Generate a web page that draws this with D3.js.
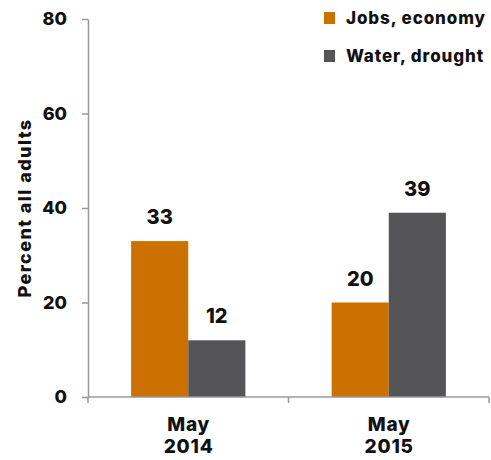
<!DOCTYPE html>
<html>
<head>
<meta charset="utf-8">
<script src="https://cdn.jsdelivr.net/npm/d3@7"></script>
<style>
  html, body { margin: 0; padding: 0; background: #fff; }
  svg { display: block; }
  svg text { font-family: Inter, "Liberation Sans", sans-serif; font-weight: 800; fill: #111; }
</style>
</head>
<body>
<svg id="chart" width="491" height="460"></svg>
<script>
const periods = ["May 2014", "May 2015"];
const seriesNames = ["Jobs, economy", "Water, drought"];
const jobsEconomy = [33, 20];
const waterDrought = [12, 39];
const yTicks = [0, 20, 40, 60, 80];
const colors = ["#CC7000", "#555557"];

const svg = d3.select("#chart");
const margin = { left: 88, right: 2, top: 19, bottom: 63 };
const W = 491, H = 460;

const x = d3.scaleBand().domain(periods).range([margin.left, W - margin.right]).paddingInner(0).paddingOuter(0);
const y = d3.scaleLinear().domain([0, 80]).range([H - margin.bottom, margin.top]);
const inner = d3.scaleBand().domain(seriesNames).range([0, x.bandwidth()]).paddingInner(0).paddingOuter(0.755);

const rows = periods.map((p, i) => ({ period: p, values: [jobsEconomy[i], waterDrought[i]] }));

// Bars
const groups = svg.append("g").selectAll("g").data(rows).join("g")
  .attr("transform", d => `translate(${x(d.period)},0)`);
groups.selectAll("rect").data(d => d.values.map((v, k) => ({ name: seriesNames[k], v, k })))
  .join("rect")
  .attr("x", d => inner(d.name))
  .attr("width", inner.bandwidth())
  .attr("y", d => y(d.v))
  .attr("height", d => y(0) - y(d.v))
  .attr("fill", d => colors[d.k]);

// Value labels
groups.selectAll("text.val").data(d => d.values.map((v, k) => ({ name: seriesNames[k], v, k })))
  .join("text").attr("class", "val")
  .attr("x", d => inner(d.name) + inner.bandwidth() / 2)
  .attr("y", d => y(d.v) - 17)
  .attr("text-anchor", "middle")
  .attr("font-size", 20)
  .text(d => d.v);

// Y axis
const yAxis = svg.append("g").attr("transform", `translate(${margin.left},0)`)
  .call(d3.axisLeft(y).tickValues(yTicks).tickSize(6).tickSizeOuter(0));
yAxis.select(".domain").attr("stroke", "#999").attr("stroke-width", 1.5);
yAxis.selectAll(".tick line").attr("stroke", "#999").attr("stroke-width", 1.5);
yAxis.selectAll(".tick text").attr("font-size", 18).attr("font-family", null)
  .attr("fill", "#111").attr("x", -21);

// X axis with ticks at band edges
const xAxisG = svg.append("g").attr("transform", `translate(0,${y(0)})`);
xAxisG.append("line").attr("x1", margin.left).attr("x2", W - margin.right)
  .attr("stroke", "#999").attr("stroke-width", 1.5);
const edges = periods.map(p => x(p)).concat([x(periods[periods.length - 1]) + x.bandwidth()]);
xAxisG.selectAll("line.edge").data(edges).join("line").attr("class", "edge")
  .attr("x1", d => d).attr("x2", d => d).attr("y1", 0).attr("y2", 6)
  .attr("stroke", "#999").attr("stroke-width", 1.5);
xAxisG.selectAll("text.cat").data(periods).join("text").attr("class", "cat")
  .attr("text-anchor", "middle")
  .attr("font-size", 19)
  .attr("letter-spacing", 0.8)
  .attr("transform", d => `translate(${x(d) + x.bandwidth() / 2 + 0.4},0)`)
  .each(function (d) {
    const parts = d.split(" ");
    d3.select(this).selectAll("tspan").data(parts).join("tspan")
      .attr("x", 0).attr("y", (t, i) => 34 + i * 22).text(t => t);
  });

// Y title
svg.append("text")
  .attr("transform", `translate(31,${y(40)}) rotate(-90)`)
  .attr("text-anchor", "middle")
  .attr("font-size", 18)
  .attr("letter-spacing", 1.4)
  .text("Percent all adults");

// Legend
const legend = svg.append("g").attr("transform", "translate(324,12)");
const li = legend.selectAll("g").data(seriesNames).join("g")
  .attr("transform", (d, i) => `translate(0,${i * 38})`);
li.append("rect").attr("width", 11).attr("height", 12).attr("fill", (d, i) => colors[i]);
li.append("text").attr("x", 22).attr("y", 12).attr("font-size", 17).attr("letter-spacing", 0.9).text(d => d);
</script>
</body>
</html>
